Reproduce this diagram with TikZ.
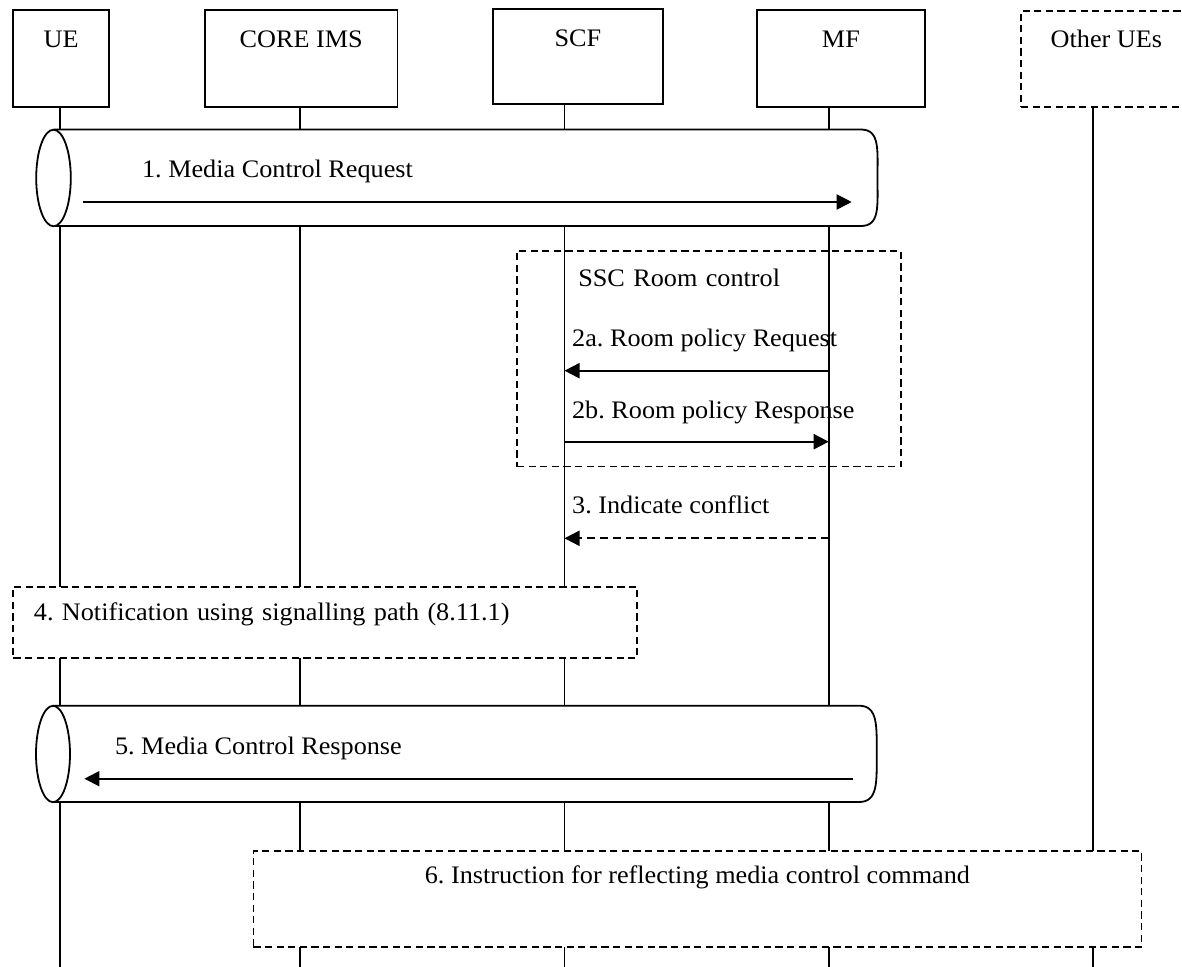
\documentclass[tikz,border=0pt]{standalone}
\usepackage{fontspec}
\setmainfont{Liberation Serif}[FakeStretch=1.04]
\usetikzlibrary{arrows.meta}
\frenchspacing

\begin{document}
\begin{tikzpicture}[
  x=0.5pt, y=-0.5pt,
  font=\fontsize{12.6pt}{15pt}\selectfont,
  actor/.style={draw, line width=0.9pt, anchor=north west, inner sep=0pt, text height=18.5pt, text depth=30pt},
  life/.style={line width=0.9pt},
  tube/.style={draw, fill=white, line width=0.9pt},
  frame/.style={draw, dash pattern=on 3.6pt off 2.2pt, line width=0.9pt, anchor=north west, inner sep=0pt},
  msg/.style={-{Triangle[length=7.5pt, width=7.5pt]}, line width=1pt},
  lbl/.style={anchor=base west, inner sep=0pt}
]
\useasboundingbox (0,0) rectangle (1182,967);

% entities
\node[actor, minimum width=48pt] (ue) at (12.3,9.3) {UE};
\node[actor, minimum width=96.25pt] (core) at (204,9.3) {CORE IMS};
\node[actor, minimum width=84.7pt, text depth=29pt] (scf) at (492.3,8.3) {SCF};
\node[actor, minimum width=84pt] (mf) at (756,9.3) {MF};
\node[actor, dash pattern=on 3.6pt off 2.2pt, minimum width=85.5pt, text depth=29.5pt] (oth) at (1020,10) {Other UEs};

% lifelines
\coordinate (ue-end) at (60.3,967);
\coordinate (core-end) at (300.2,967);
\coordinate (scf-end) at (564.5,967);
\coordinate (mf-end) at (828.7,967);
\coordinate (oth-end) at (1092.7,967);
\draw[life] (ue-end |- ue.south) -- (ue-end);
\draw[life] (core-end |- core.south) -- (core-end);
\draw[life] (scf-end |- scf.south) -- (scf-end);
\draw[life] (mf-end |- mf.south) -- (mf-end);
\draw[life] (oth-end |- oth.south) -- (oth-end);

% 1. media control request (tube)
\path[tube] (53.5,129.5) -- (861,129.5) .. controls (880,129.5) and (877.5,150) .. (877.5,178)
  .. controls (877.5,206) and (880,226) .. (861,226) -- (53.5,226);
\path[tube] (53.5,178) ellipse [x radius=17.3, y radius=48.3];
\node[lbl] (m1) at (141.7,177.7) {1. Media Control Request};
\coordinate (m1-from) at (83.3,202);
\coordinate (m1-to) at (851.7,202);
\draw[msg] (m1-from) -- (m1-to);

% SSC room control
\node[frame, inner xsep=30.7pt, text width=130.6pt, align=left, text height=18pt, text depth=89.85pt] (ssc) at (516,250) {SSC Room control};
\node[lbl] (m2a) at (571.8,346.7) {2a. Room policy Request};
\coordinate (mf-2a) at (828.7,370.7);
\coordinate (scf-2a) at (564.5,370.7);
\draw[msg] (mf-2a) -- (scf-2a);
\node[lbl] (m2b) at (571.7,418.3) {2b. Room policy Response};
\coordinate (scf-2b) at (564.5,441.7);
\coordinate (mf-2b) at (828.7,441.7);
\draw[msg] (scf-2b) -- (mf-2b);

% 3. conflict
\node[lbl] (m3) at (571.8,513.3) {3. Indicate conflict};
\coordinate (mf-3) at (828.7,538.3);
\coordinate (scf-3) at (564.5,538.3);
\draw[msg, dash pattern=on 4pt off 2.5pt] (mf-3) -- (scf-3);

% 4. notification
\node[frame, fill=white, inner xsep=10.3pt, text width=291.2pt, align=left, text height=17.15pt, text depth=18.65pt] (note4) at (12.4,585.7) {4. Notification using signalling path (8.11.1)};

% 5. media control response (tube)
\path[tube] (53,705.7) -- (859,705.7) .. controls (878,705.7) and (876.7,726) .. (876.7,754)
  .. controls (876.7,782) and (878,802) .. (859,802) -- (53,802);
\path[tube] (53,754) ellipse [x radius=17, y radius=48.2];
\node[lbl] (m5) at (114.6,754) {5. Media Control Response};
\coordinate (m5-from) at (853,778.7);
\coordinate (m5-to) at (84.4,778.7);
\draw[msg] (m5-from) -- (m5-to);

% 6. instruction
\node[frame, fill=white, minimum width=444pt, text height=16.5pt, text depth=31.5pt] (note6) at (252.5,850) {6. Instruction for reflecting media control command};

\end{tikzpicture}
\end{document}
